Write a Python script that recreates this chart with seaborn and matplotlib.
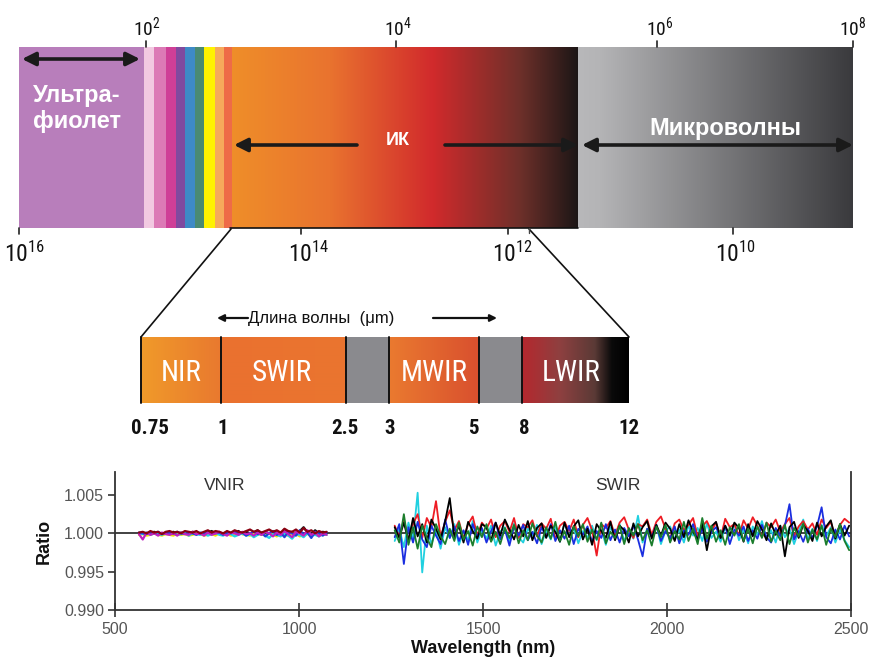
import numpy as np
import pandas as pd
import matplotlib
matplotlib.use("Agg")
import matplotlib.pyplot as plt
import matplotlib.font_manager as fm
from matplotlib.patches import Rectangle
from matplotlib.colors import to_rgb
import seaborn as sns

# ------------------------------------------------------------------ data
region_labels = ["Ультра-\nфиолет", "ИК", "Микроволны"]
wl_exponents = [2, 4, 6, 8]            # top scale (wavelength)
freq_exponents = [16, 14, 12, 10]      # bottom scale (frequency)
ir_bands = ["NIR", "SWIR", "MWIR", "LWIR"]
ir_edges_um = ["0.75", "1", "2.5", "3", "5", "8", "12"]
ir_axis_title = "Длина волны  (μm)"

# ratio deviations from 1.000, in units of 1e-4
vnir_black = [0, 1, -1, 0, 2, 0, -1, 1, 0, 2, -1, 1, 0, -1, 2, 1, 0, -1, 1, 3, 0, 1, -1, 2, 0,
              1, 3, -1, 2, 0, 1, 4, -2, 2, 0, 3, 1, -1, 5, 0, 2, -2, 3, 8, 1, -1, 4, 0, 2, 1]
vnir_yellow = [-2, -1, -3, -2, 0, -2, -3, -1, -2, -3, 0, -2, -1, -3, -2, 0, -1, -3, -2, -1, -3, 0, -2, -1, -3,
               -2, 0, -1, -2, -3, 1, -2, -1, -3, 0, -2, -4, -1, -2, -3, 0, -1, -4, -2, -1, -3, 0, -2, -1, -2]
vnir_cyan = [0, -1, 1, -2, 0, -1, -2, 1, -1, 0, -2, -1, 1, -3, 0, -1, -2, 0, -3, -1, 1, -2, -3, 0, -1,
             -4, -2, 0, -3, -1, -5, -2, 0, -3, -6, -1, -2, -4, 0, -3, -7, -1, -2, -5, 0, -3, -2, -4, -1, -2]
vnir_blue = [1, 0, -1, 1, 0, 2, -1, 0, 1, -1, 2, 0, -1, 1, 0, -2, 1, 0, 2, -1, 0, 1, -2, 1, 0,
             2, -1, 1, -3, 0, 2, -1, 1, -4, 0, 3, -2, 1, -5, 2, 0, -3, 4, -1, 1, -6, 2, 0, -3, 1]
vnir_magenta = [-1, -8, 1, -2, 0, -3, 1, -1, -2, 0, -3, 1, -1, -2, 2, -1, 0, -3, 1, -2, 0, 2, -1, -3, 1,
                0, -2, 2, -1, 0, -3, 1, -2, 2, 0, -4, 1, -2, 3, -1, -5, 2, 0, -3, 4, -2, 1, -4, 0, -2]
vnir_darkred = [1, 2, 0, 3, 1, 2, -1, 2, 3, 1, 2, 0, 3, 2, 1, 3, 0, 2, 4, 1, 3, 2, 0, 3, 1,
                4, 2, 1, 3, 5, 2, 4, 1, 3, 5, 2, 4, 1, 6, 3, 2, 5, 1, 7, 2, 4, 0, 3, 1, 2]

swir_cyan = [-10, 6, -18, 14, -8, 53, -51, 10, -14, 4, -20, 8, -6, 12, -15, 3, -9, 16, -12, 5,
             -7, 10, -16, 2, 8, -10, 13, -5, -12, 6, -3, 11, -14, 4, -8, 9, -11, 14, -4, 7,
             -13, 3, -6, 10, -9, 5, -15, 8, -2, 12, -10, 4, -7, 23, -12, 6, -4, 11, -14, 3,
             9, -8, 5, -12, 10, -3, 7, -10, 13, -6, 2, -11, 8, -4, 12, -9, 5, -13, 9, -2,
             16, -7, 4, -12, 10, -5, 7, -14, 3, 18, -8, 6, -10, 11, -4, 8, -12, 5, -9, -18]
swir_red = [10, -4, 18, -8, 12, 25, -6, 20, 8, 42, -5, 15, 30, 4, 16, -7, 12, 22, -3, 14,
            6, 18, -5, 10, 16, 2, 20, -6, 12, 8, 17, -4, 13, 6, 19, -8, 10, 15, 3, 18,
            -5, 11, 20, 4, -29, 12, 7, 16, -3, 14, 21, 5, -6, 12, 9, 18, -2, 15, 22, 6,
            -7, 13, 18, 4, 11, 20, -4, 9, 16, 3, 14, -6, 19, 8, 12, -3, 17, 6, 21, 10,
            -5, 14, 8, 18, 2, 12, 20, -4, 9, 16, 5, 13, -2, 18, 7, 15, -6, 11, 19, 14]
swir_blue = [-5, 12, -40, 8, -12, 15, -8, -18, 10, -3, -14, 18, -6, 9, -10, 4, -15, 12, -4, 7,
             -12, 3, 14, -8, 5, -16, 9, -3, 11, -9, 2, -13, 8, -5, 12, -10, 4, -7, 10, -14,
             6, -2, 9, -11, 3, -6, 12, -9, 5, -12, 7, -4, 10, -8, -30, 6, -5, 11, -10, 3,
             -7, 9, -13, 4, -2, 12, -9, 6, -11, 2, 8, -6, 10, -14, 5, -3, 9, -10, 4, -7,
             11, -5, -12, 7, -4, 10, 38, -8, 3, -11, 6, -6, 9, 34, -5, -13, 5, -8, 10, -4]
swir_black = [8, -6, 14, -10, 20, -4, 12, -12, 18, 6, -8, 16, 46, -5, 10, -12, 15, 3, -7, 12,
              8, -10, 14, -3, 18, 5, -8, 11, -4, 16, -9, 7, 13, -6, 10, 2, -11, 14, -5, 9,
              17, -8, 6, -15, 12, 3, -6, 15, -9, 10, 4, -12, 13, -4, 8, 16, -7, 11, -3, 14,
              6, -10, 12, -5, 17, 2, -8, 13, -22, 9, 15, -6, 10, -3, 14, 7, -11, 12, -4, 16,
              5, -9, 13, -2, 10, -30, 8, 15, -6, 11, 3, -10, 14, -4, 9, 17, -7, 12, -3, 10]
swir_green = [4, -12, 25, -15, 8, -20, 10, -6, -18, 12, -4, -14, 6, -10, 14, -8, 3, -16, 9, -5,
              12, -11, 2, -14, 7, -6, 11, -13, 4, -9, 13, -3, -12, 8, -7, 15, -10, 3, -15, 9,
              -4, 12, -11, 5, -8, 14, -13, 2, -6, 10, -14, 7, -3, 12, -9, 4, -16, 9, -5, 11,
              -12, 3, -8, 15, -10, 6, -14, 20, -7, 10, -11, 4, -15, 8, -3, 12, -10, 6, -13, 9,
              -6, 14, -11, 3, -9, 11, -14, 7, -4, 13, -12, 5, -8, 10, -15, 6, -5, 12, -10, -22]

vnir_range = (565, 1075)
swir_range = (1260, 2495)

# ------------------------------------------------------------------ style
sns.set_theme(style="ticks")
names = {f.name for f in fm.fontManager.ttflist}
NARROW = next((n for n in ["Liberation Sans Narrow", "DejaVu Sans Condensed", "Roboto Condensed"]
               if n in names), "DejaVu Sans")
SANS = "Liberation Sans" if "Liberation Sans" in names else "DejaVu Sans"
plt.rcParams["font.family"] = [SANS, "DejaVu Sans"]
plt.rcParams["mathtext.default"] = "regular"

fig = plt.figure(figsize=(8.69, 6.62), dpi=100)
fig.patch.set_facecolor("white")

# full-figure canvas for the schematic spectrum (pixel-like units)
ax0 = fig.add_axes([0, 0, 1, 1])
ax0.set_autoscale_on(False)
ax0.set_xlim(0, 869)
ax0.set_ylim(662, 0)
ax0.axis("off")


def hgrad(ax, x0, x1, y0, y1, pos, cols, z=1):
    xs = np.linspace(x0, x1, max(int((x1 - x0) * 2), 2))
    rgb = np.array([to_rgb(c) for c in cols])
    arr = np.stack([np.interp(xs, pos, rgb[:, k]) for k in range(3)], axis=-1)[None, :, :]
    ax.imshow(arr, extent=(x0, x1, y1, y0), aspect="auto", interpolation="bilinear", zorder=z)


# ---- top spectrum bar
BT, BB = 47, 228
ax0.add_patch(Rectangle((19, BT), 144 - 19, BB - BT, color="#b87ebb", lw=0, zorder=1))
stripe_edges = [144, 154, 166, 176, 185, 195, 204, 215, 224, 232]
stripe_cols = ["#f2c9e1", "#dc7ab6", "#cf3f97", "#804a9f", "#3e8ac6", "#4a8a72",
               "#fff200", "#f6a95b", "#ee6b47"]
for a, b, c in zip(stripe_edges[:-1], stripe_edges[1:], stripe_cols):
    ax0.add_patch(Rectangle((a, BT), b - a, BB - BT, color=c, lw=0, zorder=1))
hgrad(ax0, 232, 578, BT, BB, [232, 330, 433, 520, 578],
      ["#ef8e29", "#e9732f", "#d12a2c", "#6e302a", "#1c1616"])
hgrad(ax0, 578, 853, BT, BB, [578, 600, 853], ["#b8b8ba", "#b4b4b6", "#3a3a3d"])
ax0.plot([230, 578], [BB, BB], color="#111111", lw=1.2, zorder=3)

# top ticks / labels (wavelength)
top_tick_x = [146, 396, 657, 853]
top_lab_x = [147, 398, 660, 853]
for tx, lx, e in zip(top_tick_x, top_lab_x, wl_exponents):
    ax0.plot([tx, tx], [41, BT], color="#222222", lw=1.2, zorder=3)
    ax0.text(lx, 35, "$10^{%d}$" % e, ha="center", va="baseline", fontsize=14,
             family=[NARROW, "DejaVu Sans"], color="#111111")
# bottom ticks / labels (frequency)
bot_tick_x = [19, 301, 508, 733]
bot_lab_x = [25, 309, 513, 735]
for tx, lx, e in zip(bot_tick_x, bot_lab_x, freq_exponents):
    ax0.plot([tx, tx], [BB, BB + 6], color="#222222", lw=1.2, zorder=3)
    ax0.text(lx, 262, "$10^{%d}$" % e, ha="center", va="baseline", fontsize=17,
             family=[NARROW, "DejaVu Sans"], color="#111111")

# arrows in the bar
akw = dict(color="#1a1a1a", lw=2.6, shrinkA=0, shrinkB=0, mutation_scale=20)
ax0.annotate("", xy=(140, 59), xytext=(22, 59), arrowprops=dict(arrowstyle="<|-|>", **akw), zorder=4)
ax0.annotate("", xy=(234, 145), xytext=(357, 145), arrowprops=dict(arrowstyle="-|>", **akw), zorder=4)
ax0.annotate("", xy=(578, 145), xytext=(445, 145), arrowprops=dict(arrowstyle="-|>", **akw), zorder=4)
ax0.annotate("", xy=(853, 145), xytext=(582, 145), arrowprops=dict(arrowstyle="<|-|>", **akw), zorder=4)

ax0.text(33, 102, region_labels[0].split("\n")[0], ha="left", va="baseline", fontsize=17,
         fontweight="bold", color="white", zorder=5)
ax0.text(33, 128, region_labels[0].split("\n")[1], ha="left", va="baseline", fontsize=17,
         fontweight="bold", color="white", zorder=5)
ax0.text(398, 145, region_labels[1], ha="center", va="baseline", fontsize=13,
         fontweight="bold", color="white", zorder=5)
ax0.text(725, 135, region_labels[2], ha="center", va="baseline", fontsize=17,
         fontweight="bold", color="white", zorder=5)

# ---- connector lines to the IR detail band
MT, MB = 337, 403
ax0.plot([231, 141], [BB + 1, MT], color="#111111", lw=1.2, zorder=3)
ax0.plot([529, 629], [BB + 1, MT], color="#111111", lw=1.2, zorder=3)
ax0.plot([529, 529], [BB, BB + 5], color="#444444", lw=1, zorder=3)

# ---- IR detail band
seg_edges = [141, 221, 346, 389, 479, 522, 629]
hgrad(ax0, 141, 221, MT, MB, [141, 221], ["#f09a2a", "#e9792f"])
hgrad(ax0, 221, 346, MT, MB, [221, 346], ["#ea712f", "#ea7530"])
ax0.add_patch(Rectangle((346, MT), 389 - 346, MB - MT, color="#8a8a8e", lw=0, zorder=1))
hgrad(ax0, 389, 479, MT, MB, [389, 479], ["#ea7a30", "#d9502e"])
ax0.add_patch(Rectangle((479, MT), 522 - 479, MB - MT, color="#8a8a8e", lw=0, zorder=1))
hgrad(ax0, 522, 629, MT, MB, [522, 560, 595, 612, 629],
      ["#b5282e", "#8e4040", "#5a3a36", "#0a0a0a", "#000000"])
for xe in seg_edges[:-1]:
    ax0.plot([xe, xe], [MT, MB], color="#111111", lw=1.4, zorder=3)

band_lab_x = [181, 282, 434, 571]
for x, t in zip(band_lab_x, ir_bands):
    ax0.text(x, 373, t, ha="center", va="center", fontsize=21, color="white",
             family=[NARROW, "DejaVu Sans"], zorder=5)
edge_lab_x = [150, 223, 345, 390, 473, 524, 629]
for x, t in zip(edge_lab_x, ir_edges_um):
    ax0.text(x, 429, t, ha="center", va="center", fontsize=15, color="#111111",
             family=[NARROW, "DejaVu Sans"], fontweight="bold", zorder=5)

ax0.text(248, 318, ir_axis_title, ha="left", va="center", fontsize=12, color="#111111", zorder=5)
skw = dict(color="#111111", lw=1.6, shrinkA=0, shrinkB=0, mutation_scale=10)
ax0.annotate("", xy=(217, 318), xytext=(248, 318), arrowprops=dict(arrowstyle="-|>", **skw))
ax0.annotate("", xy=(497, 318), xytext=(433, 318), arrowprops=dict(arrowstyle="-|>", **skw))

# ------------------------------------------------------------------ ratio plot
ax = fig.add_axes([115 / 869, 1 - 610 / 662, (851 - 115) / 869, (610 - 472) / 662])
ax.set_facecolor("white")

vnir = {"black": vnir_black, "yellow": vnir_yellow, "cyan": vnir_cyan,
        "blue": vnir_blue, "magenta": vnir_magenta, "darkred": vnir_darkred}
vn_pal = {"black": "#111111", "yellow": "#f2e600", "cyan": "#22d3e6", "blue": "#1f3fd8",
          "magenta": "#c020c0", "darkred": "#8a0010"}
swir = {"cyan": swir_cyan, "red": swir_red, "blue": swir_blue, "black": swir_black, "green": swir_green}
sw_pal = {"cyan": "#20d0e0", "red": "#ee1c24", "blue": "#1a2ee0", "black": "#000000", "green": "#1b7d2c"}


def long_df(d, rng):
    return pd.concat([pd.DataFrame({"wl": np.linspace(rng[0], rng[1], len(v)),
                                    "ratio": 1 + np.asarray(v) * 1e-4, "series": k})
                      for k, v in d.items()], ignore_index=True)


ax.axhline(1.0, color="#333333", lw=1.3, zorder=1)
sns.lineplot(data=long_df(vnir, vnir_range), x="wl", y="ratio", hue="series",
             hue_order=list(vnir), palette=vn_pal, estimator=None, sort=False,
             legend=False, lw=1.6, ax=ax, zorder=2)
sns.lineplot(data=long_df(swir, swir_range), x="wl", y="ratio", hue="series",
             hue_order=list(swir), palette=sw_pal, estimator=None, sort=False,
             legend=False, lw=1.3, ax=ax, zorder=2)

ax.set_xlim(500, 2500)
ax.set_ylim(0.990, 1.008)
ax.set_xticks([500, 1000, 1500, 2000, 2500])
ax.set_yticks([0.990, 0.995, 1.000, 1.005])
ax.set_yticklabels(["%.3f" % v for v in [0.990, 0.995, 1.000, 1.005]])
ax.tick_params(axis="x", direction="inout", length=10, width=1.2, colors="#333333",
               labelcolor="#555555", labelsize=11.5, pad=4)
ax.tick_params(axis="y", direction="out", length=5, width=1.2, colors="#333333",
               labelcolor="#555555", labelsize=11.5, pad=3)
for s in ["left", "bottom", "right"]:
    ax.spines[s].set_color("#333333")
    ax.spines[s].set_linewidth(1.3)
ax.spines["top"].set_visible(False)
ax.set_xlabel("Wavelength (nm)", fontsize=13, fontweight="bold", labelpad=2, color="#111111")
ax.set_ylabel("Ratio", fontsize=13, fontweight="bold", labelpad=8, color="#111111")
ax.text(799, 1.0063, "VNIR", ha="center", va="center", fontsize=12.5, color="#333333")
ax.text(1867, 1.0063, "SWIR", ha="center", va="center", fontsize=12.5, color="#333333")

fig.savefig("out.png", dpi=100, facecolor="white")
